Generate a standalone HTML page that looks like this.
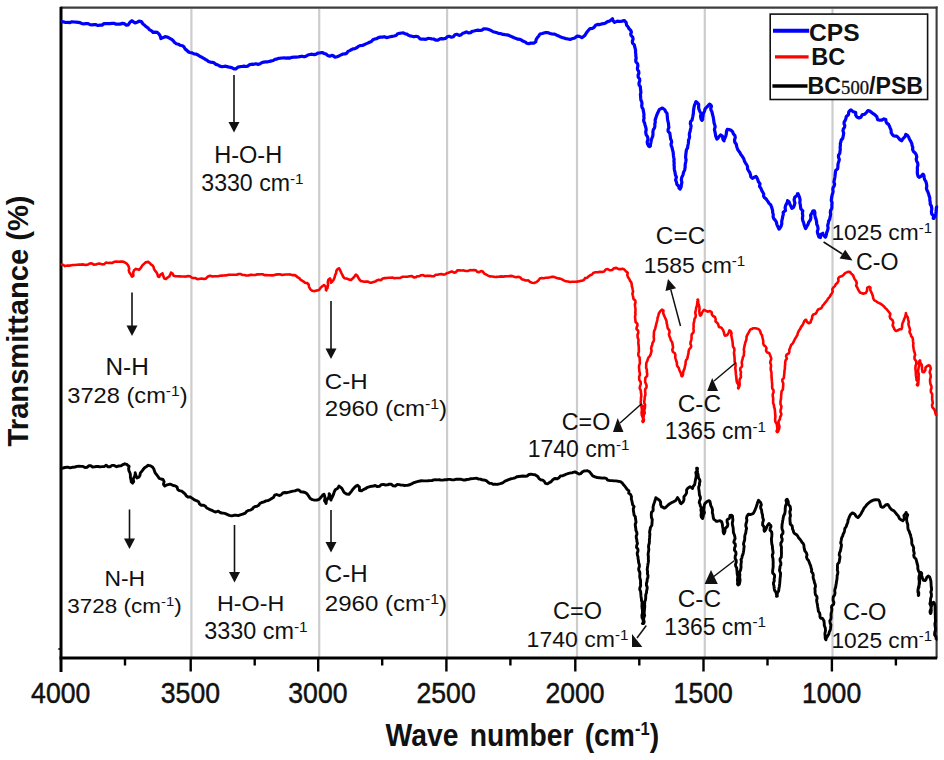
<!DOCTYPE html>
<html><head><meta charset="utf-8"><title>FTIR</title>
<style>html,body{margin:0;padding:0;background:#fff;}body{width:944px;height:760px;position:relative;overflow:hidden;font-family:"Liberation Sans",sans-serif;}</style>
</head><body>
<svg width="944" height="760" viewBox="0 0 944 760" style="position:absolute;left:0;top:0" font-family="Liberation Sans, sans-serif" fill="#111">
<rect x="0" y="0" width="944" height="760" fill="#fff"/>
<line x1="191.4" y1="9" x2="191.4" y2="657" stroke="#cdcdcd" stroke-width="2.2"/>
<line x1="319.2" y1="9" x2="319.2" y2="657" stroke="#cdcdcd" stroke-width="2.2"/>
<line x1="447.1" y1="9" x2="447.1" y2="657" stroke="#cdcdcd" stroke-width="2.2"/>
<line x1="577.0" y1="9" x2="577.0" y2="657" stroke="#cdcdcd" stroke-width="2.2"/>
<line x1="704.8" y1="9" x2="704.8" y2="657" stroke="#cdcdcd" stroke-width="2.2"/>
<line x1="832.5" y1="9" x2="832.5" y2="657" stroke="#cdcdcd" stroke-width="2.2"/>
<line x1="61" y1="7.6" x2="937.6" y2="7.6" stroke="#3c3c3c" stroke-width="2.1"/>
<line x1="936.6" y1="6.6" x2="936.6" y2="658" stroke="#3c3c3c" stroke-width="2.1"/>
<line x1="61" y1="6.8" x2="61" y2="672" stroke="#000" stroke-width="3.0"/>
<line x1="59.5" y1="658" x2="937.2" y2="658" stroke="#000" stroke-width="3.0"/>
<line x1="58.3" y1="649" x2="61" y2="649" stroke="#000" stroke-width="1.6"/>
<line x1="125.0" y1="658" x2="125.0" y2="665.5" stroke="#000" stroke-width="2.4"/>
<text transform="translate(60.7,702.9) scale(1,1.09)" text-anchor="middle" font-size="26.6" stroke="#111" stroke-width="0.45">4000</text>
<line x1="190.7" y1="658" x2="190.7" y2="671.5" stroke="#000" stroke-width="2.4"/>
<line x1="254.7" y1="658" x2="254.7" y2="665.5" stroke="#000" stroke-width="2.4"/>
<text transform="translate(190.39999999999998,702.9) scale(1,1.09)" text-anchor="middle" font-size="26.6" stroke="#111" stroke-width="0.45">3500</text>
<line x1="318.2" y1="658" x2="318.2" y2="671.5" stroke="#000" stroke-width="2.4"/>
<line x1="382.2" y1="658" x2="382.2" y2="665.5" stroke="#000" stroke-width="2.4"/>
<text transform="translate(317.9,702.9) scale(1,1.09)" text-anchor="middle" font-size="26.6" stroke="#111" stroke-width="0.45">3000</text>
<line x1="446.4" y1="658" x2="446.4" y2="671.5" stroke="#000" stroke-width="2.4"/>
<line x1="510.4" y1="658" x2="510.4" y2="665.5" stroke="#000" stroke-width="2.4"/>
<text transform="translate(446.09999999999997,702.9) scale(1,1.09)" text-anchor="middle" font-size="26.6" stroke="#111" stroke-width="0.45">2500</text>
<line x1="575.3" y1="658" x2="575.3" y2="671.5" stroke="#000" stroke-width="2.4"/>
<line x1="639.3" y1="658" x2="639.3" y2="665.5" stroke="#000" stroke-width="2.4"/>
<text transform="translate(575.0,702.9) scale(1,1.09)" text-anchor="middle" font-size="26.6" stroke="#111" stroke-width="0.45">2000</text>
<line x1="703.5" y1="658" x2="703.5" y2="671.5" stroke="#000" stroke-width="2.4"/>
<line x1="767.5" y1="658" x2="767.5" y2="665.5" stroke="#000" stroke-width="2.4"/>
<text transform="translate(703.2,702.9) scale(1,1.09)" text-anchor="middle" font-size="26.6" stroke="#111" stroke-width="0.45">1500</text>
<line x1="831.9" y1="658" x2="831.9" y2="671.5" stroke="#000" stroke-width="2.4"/>
<line x1="895.9" y1="658" x2="895.9" y2="665.5" stroke="#000" stroke-width="2.4"/>
<text transform="translate(831.6,702.9) scale(1,1.09)" text-anchor="middle" font-size="26.6" stroke="#111" stroke-width="0.45">1000</text>
<polyline points="61.0,22.0 61.7,21.7 63.3,21.8 65.5,22.5 67.9,22.4 70.0,22.6 72.0,21.8 74.0,22.0 76.1,22.2 78.1,22.4 80.1,22.7 82.0,23.6 84.0,23.8 86.1,23.5 88.1,23.7 90.0,24.7 92.0,24.8 94.0,24.7 96.0,24.7 98.0,25.5 100.0,25.2 102.0,25.1 104.0,23.6 106.0,23.5 108.0,23.7 110.0,23.6 112.0,23.4 114.0,23.3 116.1,24.2 118.1,24.2 120.0,24.1 122.3,23.4 124.4,23.7 126.3,25.1 128.2,24.8 129.9,22.3 131.9,20.7 133.5,21.9 135.0,22.9 137.3,22.2 139.0,21.1 141.3,21.5 143.0,24.0 144.7,25.3 146.3,26.8 148.2,28.1 149.3,29.6 151.6,30.8 153.1,32.4 155.1,32.1 157.3,32.4 159.1,34.1 160.3,36.2 160.9,38.5 163.2,37.6 165.1,36.7 167.3,37.0 169.8,38.3 171.6,39.3 173.2,40.7 174.6,42.5 176.3,43.7 178.4,44.2 180.2,45.3 182.5,45.8 184.0,46.9 185.0,48.9 186.6,50.1 188.0,51.5 189.7,52.5 192.1,52.9 194.1,53.9 196.4,54.2 198.4,55.2 200.1,56.5 202.0,57.3 203.7,58.3 205.3,59.4 207.0,60.2 208.5,61.4 210.3,62.1 212.3,62.3 214.2,62.9 216.0,64.4 218.0,65.0 219.8,66.1 222.2,66.7 224.8,66.2 227.1,66.6 229.4,67.2 231.7,67.6 234.0,68.9 236.0,68.8 237.9,67.1 239.9,66.7 241.9,66.5 243.9,66.2 245.9,66.5 247.9,66.1 249.8,64.6 251.6,64.2 253.7,64.3 255.8,63.8 258.1,64.4 260.2,63.8 262.0,62.5 263.8,62.1 265.8,61.9 267.7,61.8 269.6,61.4 271.4,60.9 273.3,60.5 275.0,59.3 276.8,59.1 278.7,58.3 280.5,58.2 282.4,58.0 284.3,57.9 286.1,58.1 288.0,57.9 290.0,58.1 292.0,57.3 294.0,57.2 296.0,57.2 298.0,57.0 299.8,56.6 301.9,56.2 304.1,56.8 306.1,56.2 307.9,55.0 309.9,54.5 312.0,54.2 314.2,54.6 316.2,54.1 318.1,53.0 320.0,52.9 322.2,52.5 324.2,53.5 326.2,54.1 327.8,55.6 329.6,56.2 331.8,55.4 333.4,55.9 335.0,57.1 337.0,56.7 339.0,55.9 341.1,54.9 343.0,54.0 345.0,53.9 346.7,53.2 348.0,51.4 349.8,50.6 351.3,49.7 352.9,48.9 354.9,48.6 356.7,47.7 358.3,46.4 360.1,45.6 362.3,45.5 364.1,44.7 365.9,43.9 367.7,43.1 369.5,42.2 371.4,41.5 372.9,39.7 374.8,39.0 376.7,38.7 378.4,37.6 380.3,37.1 382.3,37.1 384.2,36.7 386.4,37.6 388.3,37.2 390.2,36.8 392.1,36.4 394.1,36.0 396.1,35.5 397.8,33.7 399.7,33.3 401.6,33.0 403.4,32.9 405.0,33.7 406.9,34.1 408.4,35.2 410.0,35.9 411.9,36.3 413.9,36.8 416.1,36.3 418.1,36.8 419.9,38.8 421.8,39.1 423.8,39.1 425.8,39.3 428.0,38.4 429.9,38.5 431.8,38.9 433.7,39.0 435.8,40.2 437.9,40.1 440.0,38.8 441.7,38.6 443.7,38.8 445.6,38.4 447.2,36.8 449.1,36.3 451.4,37.2 453.4,36.7 454.9,34.8 456.8,34.3 459.1,35.4 461.0,34.9 462.7,33.3 464.6,32.8 466.4,31.9 468.7,33.0 470.6,32.6 472.2,31.4 474.0,31.0 475.9,30.5 477.9,30.1 480.0,30.5 481.8,30.2 483.6,28.9 485.4,28.9 487.1,29.0 489.3,29.7 491.2,30.7 493.1,31.7 495.2,32.3 497.0,32.8 498.9,33.5 501.0,33.7 503.0,34.4 505.1,34.7 507.0,34.9 509.0,35.4 510.7,36.3 512.5,37.0 514.2,37.8 516.0,38.4 517.8,39.2 520.0,39.4 521.8,40.3 523.4,41.3 525.2,41.9 526.8,43.3 528.7,43.7 530.7,43.1 532.4,43.1 534.1,43.1 535.7,41.8 536.2,39.4 537.4,37.6 538.8,35.9 540.0,34.0 542.3,33.5 543.8,33.0 545.8,32.5 548.0,32.6 550.0,33.5 551.8,33.8 554.6,34.1 556.9,35.2 558.6,35.9 560.2,36.8 562.0,37.4 563.9,38.0 565.9,38.6 568.0,39.0 570.1,39.4 571.9,38.8 573.9,38.3 575.6,37.3 577.0,36.1 579.4,36.4 581.8,37.6 583.8,36.3 585.0,35.3 586.1,33.4 587.4,31.5 588.7,30.0 590.0,28.6 592.3,28.4 594.1,27.3 595.6,25.3 597.7,24.4 599.8,24.6 601.6,23.9 603.5,23.7 605.2,23.2 607.6,21.6 609.7,21.0 611.2,19.9 612.5,18.8 613.0,20.7 614.6,22.4 617.4,21.1 620.0,21.5 622.1,21.1 624.2,20.5 626.1,22.3 626.6,25.2 628.0,26.8 629.0,28.7 630.9,30.7 631.4,32.1 630.7,34.0 631.2,35.7 632.7,37.2 633.1,39.1 632.3,41.3 632.6,43.2 634.3,44.9 634.7,46.8 635.2,48.6 635.6,50.4 635.5,52.3 635.8,54.2 635.8,56.1 636.2,58.0 635.7,60.0 636.0,62.0 637.6,63.8 637.9,65.8 637.4,68.0 637.6,69.7 638.7,71.4 638.9,73.2 638.1,75.2 638.2,77.1 639.6,78.9 639.8,80.8 639.0,82.9 639.1,84.8 640.3,86.7 640.5,88.7 640.7,90.6 640.9,92.5 640.4,94.5 640.6,96.4 640.7,98.2 640.9,100.0 641.7,101.8 642.0,103.7 641.7,105.6 642.0,107.4 643.1,109.1 643.3,110.9 643.7,112.7 644.0,114.5 643.8,116.3 644.1,118.1 643.6,119.9 643.9,121.7 644.7,123.3 645.0,125.0 645.7,127.1 646.2,129.4 645.7,132.1 646.1,134.6 647.6,136.9 648.0,139.3 647.2,141.7 647.4,143.6 648.1,145.0 648.6,146.0 649.5,146.6 650.4,146.0 650.4,144.6 650.8,143.1 651.1,141.1 651.6,138.9 652.6,136.7 653.0,134.3 652.9,131.8 653.3,129.7 654.4,128.1 654.9,126.1 654.8,124.0 655.3,122.1 655.1,120.1 655.7,118.4 656.2,116.8 656.9,114.7 657.8,112.8 658.6,111.0 659.5,109.4 662.4,108.0 664.8,109.7 665.1,110.2 665.5,111.5 667.0,113.2 667.2,115.4 667.4,117.6 667.6,119.9 668.1,121.9 668.5,123.7 668.6,125.6 668.9,127.4 668.1,129.4 668.1,131.3 669.8,133.1 670.1,135.2 670.4,137.4 670.6,139.0 671.4,140.5 671.7,142.2 671.0,144.1 671.3,145.9 672.1,147.7 672.4,149.6 673.0,151.5 673.3,153.4 673.4,155.4 673.7,157.3 674.1,159.2 673.9,161.2 674.2,163.1 674.0,165.0 674.3,166.7 674.2,168.5 674.5,170.1 675.0,172.3 675.4,174.8 676.4,177.2 675.6,179.9 676.5,182.3 676.9,184.5 678.6,186.0 679.0,187.4 679.3,188.2 679.0,188.1 680.1,189.1 680.6,188.1 681.2,186.6 681.4,184.6 681.9,182.4 681.3,179.8 681.8,177.3 683.0,174.9 683.5,172.4 684.6,170.1 684.9,168.6 685.2,167.0 685.1,165.2 685.4,163.4 685.8,161.6 686.1,159.8 685.6,157.7 685.7,155.7 685.9,153.8 686.2,151.8 686.4,149.8 687.6,147.9 687.8,145.9 688.2,144.0 688.5,142.0 688.5,140.1 689.3,138.3 689.6,136.5 689.3,134.7 689.5,133.1 690.1,131.5 690.3,130.0 690.8,127.8 691.1,125.8 690.3,123.6 690.6,121.6 692.1,120.0 692.4,118.3 692.8,116.5 693.1,114.8 693.4,113.1 693.5,110.6 693.9,108.0 694.4,105.4 695.4,103.3 695.9,101.9 695.9,101.5 696.7,102.2 698.7,104.4 698.6,107.6 699.0,109.4 699.8,111.5 701.2,113.7 700.5,116.2 700.9,118.2 701.3,119.6 702.0,120.3 702.7,119.5 702.7,118.0 703.1,115.8 703.3,113.4 704.5,111.2 705.0,109.2 705.7,108.1 707.7,106.3 709.5,104.1 710.9,105.1 711.5,106.3 710.7,108.3 711.0,110.1 712.0,112.0 712.4,114.3 713.1,116.5 713.5,118.8 713.8,121.0 714.1,123.1 714.7,124.8 715.2,126.9 714.4,129.5 714.9,131.7 715.4,134.0 715.7,136.0 716.3,137.7 716.9,139.0 717.7,138.6 718.8,136.8 720.5,135.0 722.5,136.1 722.9,139.4 724.0,140.9 724.1,140.0 724.7,138.5 725.7,136.4 726.3,133.9 726.5,131.4 727.3,129.4 729.1,129.6 730.7,130.0 732.4,131.5 732.9,132.4 733.4,133.9 734.9,135.5 735.3,137.6 734.5,140.0 734.8,142.3 736.3,144.3 736.7,146.4 737.3,148.3 737.9,149.8 739.0,151.4 740.0,152.8 740.7,154.3 741.8,155.7 742.9,157.3 743.8,158.9 744.4,160.9 745.4,162.8 746.6,164.6 747.5,166.4 747.5,168.7 748.3,170.3 749.7,172.4 750.5,174.7 750.8,176.9 752.4,178.3 754.4,177.1 756.0,176.4 756.4,176.9 757.1,178.1 757.8,179.8 758.4,181.8 760.0,183.8 759.5,186.4 761.0,188.5 761.8,190.6 762.8,192.3 763.7,194.0 763.6,196.2 764.6,197.8 766.1,198.9 767.1,200.4 768.2,201.9 769.1,203.4 770.6,204.7 771.4,206.6 772.0,208.5 772.6,210.5 772.7,212.6 773.3,214.6 773.1,216.7 773.7,218.6 775.1,220.0 776.4,222.1 776.9,224.6 777.9,226.7 778.6,228.1 779.0,229.1 779.7,228.6 780.3,227.5 781.2,225.9 781.8,223.8 781.7,221.4 782.3,218.9 782.7,216.5 783.3,214.3 783.2,212.3 785.5,210.4 785.1,207.7 785.7,205.3 786.8,203.4 787.4,202.0 787.6,200.6 788.9,201.7 789.9,204.2 791.0,206.4 791.9,208.4 793.5,207.3 794.3,205.4 794.9,203.0 794.1,199.9 794.7,197.3 797.0,195.4 797.6,194.0 797.5,193.8 798.0,193.7 798.6,195.1 799.5,197.2 800.1,199.8 799.8,202.6 800.4,205.1 800.5,206.9 800.9,208.9 802.8,210.8 802.4,213.3 802.8,215.8 802.4,218.3 802.8,220.7 803.7,222.8 804.1,224.8 804.8,226.5 805.2,227.8 805.6,228.6 805.8,228.1 806.1,227.9 806.8,226.4 808.0,224.4 808.8,222.0 810.3,220.1 810.9,217.9 810.6,215.2 812.1,213.0 812.7,211.3 813.0,210.8 814.3,210.8 814.9,212.6 814.8,215.1 815.4,217.6 816.2,219.9 816.6,221.8 816.7,224.1 817.7,226.4 818.1,228.9 817.3,231.6 817.8,233.8 818.4,235.5 818.9,236.9 820.5,237.5 820.8,234.5 822.9,233.3 822.5,234.2 824.5,236.1 825.2,237.2 825.5,237.1 825.9,236.1 826.4,234.5 826.7,232.5 827.6,230.4 828.1,228.0 827.7,225.5 828.3,223.1 828.7,220.9 829.6,219.4 829.9,217.7 830.4,215.9 830.6,214.1 830.3,212.2 830.6,210.4 831.7,208.6 831.9,206.7 831.8,204.7 832.1,202.8 831.3,200.7 831.4,198.8 831.8,196.9 832.1,194.9 832.8,193.2 833.1,191.3 832.8,189.4 833.1,187.6 834.3,185.8 834.6,184.0 833.9,181.9 834.3,180.0 834.7,178.1 835.0,176.2 835.2,174.3 835.4,172.4 835.7,170.5 837.6,168.9 837.9,167.0 837.9,165.1 838.2,163.2 838.9,161.3 839.3,159.4 838.5,157.2 838.5,155.2 839.8,153.4 840.0,151.4 840.3,149.5 840.1,147.4 840.4,145.5 840.3,143.6 840.9,141.8 841.2,140.0 842.7,138.5 843.0,136.8 843.4,135.2 843.7,133.1 843.0,131.0 843.3,129.0 844.5,127.4 844.8,125.6 844.0,123.6 844.2,121.9 845.2,120.4 845.8,118.9 846.3,116.5 848.5,114.7 848.7,112.2 849.8,110.6 851.0,109.8 852.7,111.4 855.7,112.4 855.7,115.2 857.0,117.1 859.0,118.0 860.9,117.2 862.1,114.9 864.6,114.2 866.4,112.6 868.0,110.6 869.8,111.1 871.6,112.4 873.2,113.7 875.3,115.1 876.9,116.9 877.6,119.7 879.7,120.2 881.8,120.2 883.9,118.9 885.8,119.6 886.0,121.7 886.8,123.1 888.6,124.4 889.4,126.2 890.1,127.9 891.1,130.1 891.2,132.7 892.4,134.6 893.7,136.0 895.5,136.1 896.7,136.0 898.1,137.5 899.9,139.6 901.6,140.8 902.8,138.9 905.0,136.7 905.8,134.4 907.5,135.3 908.6,137.0 909.5,139.2 910.8,141.4 911.8,143.6 912.1,145.5 912.8,147.3 912.6,149.5 913.4,151.4 915.2,152.9 916.2,154.8 916.8,156.8 916.2,159.1 916.6,160.9 917.7,162.9 917.9,165.2 917.3,167.6 917.4,169.8 917.3,172.0 917.4,173.9 917.8,175.4 918.2,176.6 919.1,177.3 921.4,176.0 923.0,174.1 923.5,174.7 924.0,175.8 924.2,177.5 924.6,179.5 925.9,181.6 926.5,183.8 926.8,186.1 926.4,188.3 926.9,190.0 927.9,192.0 928.6,193.9 929.1,195.9 929.8,197.8 929.8,200.1 930.2,201.9 930.2,204.1 931.5,206.4 931.8,209.0 931.4,211.6 931.7,213.9 933.5,215.8 933.8,217.3 933.9,218.3 933.2,218.3 933.2,218.1 935.2,216.6 935.7,214.0 936.1,211.2 936.3,208.7 936.6,206.8 936.0,206.0" fill="none" stroke="#0000ff" stroke-width="3.2" stroke-linejoin="round" stroke-linecap="butt"/>
<polyline points="61.0,265.0 61.6,264.6 63.0,264.7 65.0,266.1 67.6,265.5 70.2,265.6 72.8,265.0 75.0,265.0 77.1,264.7 79.2,264.6 81.2,264.6 83.3,264.4 85.4,264.9 87.5,264.8 89.6,263.5 91.7,263.4 93.8,264.6 95.9,264.5 98.0,263.8 100.0,263.6 102.1,264.4 104.1,264.2 105.9,262.6 107.9,263.0 110.0,262.8 112.1,263.0 114.2,261.8 116.5,261.5 118.7,261.7 120.8,261.6 122.6,261.6 124.6,262.3 126.4,263.4 127.8,264.8 128.6,266.4 129.2,268.3 128.8,270.4 129.3,272.2 131.2,275.1 132.0,276.7 133.4,275.7 133.1,272.7 134.1,270.2 135.9,268.9 137.5,269.3 139.0,269.9 140.0,268.9 141.2,267.2 142.5,265.3 144.0,263.9 145.8,262.3 148.2,261.9 149.9,263.2 150.9,264.4 152.7,265.6 153.6,267.2 154.1,269.1 155.2,270.9 156.5,272.4 157.5,274.3 157.9,276.3 159.0,277.0 160.3,274.9 162.5,273.3 163.2,275.8 164.3,278.4 166.1,278.9 166.7,278.1 169.2,276.5 170.5,274.2 171.0,272.5 172.5,273.5 173.6,275.7 175.5,276.2 177.4,276.3 179.5,276.4 181.7,276.5 184.0,276.5 186.0,276.6 188.1,276.0 190.0,276.3 192.3,278.0 195.2,278.0 197.5,279.2 200.0,278.8 201.8,278.5 204.1,279.0 206.1,278.4 207.9,276.5 210.0,275.7 212.6,276.5 214.3,276.2 216.2,276.3 218.1,276.2 220.0,275.7 221.9,275.6 223.7,275.5 225.7,275.4 227.8,274.9 230.0,274.8 231.6,274.8 233.2,274.8 235.0,274.8 236.8,274.8 238.6,274.0 240.5,274.0 242.4,274.9 244.4,275.0 246.3,275.5 248.2,275.5 250.0,274.9 251.8,274.9 253.6,275.0 255.5,275.0 257.3,274.3 259.1,274.4 260.9,274.3 262.7,274.3 264.5,275.1 266.4,275.1 268.2,275.3 270.0,275.3 271.9,275.4 273.8,275.2 275.8,274.6 277.8,274.4 279.8,274.2 281.8,274.9 283.7,274.8 285.4,274.5 287.1,274.5 288.6,274.5 289.9,274.4 292.1,275.1 294.4,275.0 296.3,276.0 297.6,277.3 299.3,278.1 300.5,279.7 302.0,280.6 303.6,281.6 305.0,282.8 307.3,283.1 308.6,284.5 309.1,287.1 310.3,289.2 312.2,290.7 314.5,291.1 316.9,290.5 319.0,290.0 320.5,287.9 322.6,286.0 324.0,285.0 325.7,286.4 326.0,289.3 326.3,290.4 325.9,289.9 327.5,288.0 328.1,285.1 327.8,282.0 328.4,279.7 329.9,278.4 330.9,280.4 330.9,282.7 332.1,281.8 333.5,279.9 334.6,277.5 335.1,275.1 336.1,273.2 336.4,270.8 337.5,269.1 339.2,268.3 340.3,270.6 341.5,273.3 342.4,274.8 343.1,276.7 344.4,278.2 347.0,278.6 349.1,279.6 351.0,279.9 352.3,278.8 354.1,277.0 355.4,275.2 355.9,274.6 357.1,275.5 358.3,277.6 359.4,279.5 360.9,281.1 362.5,281.3 364.1,281.7 366.0,281.5 368.0,281.6 370.0,282.7 371.7,282.6 373.4,282.0 375.2,281.6 376.8,280.4 378.7,279.8 381.0,280.2 382.7,278.5 384.8,278.1 386.6,278.0 388.4,277.8 390.3,277.8 392.3,277.6 394.3,278.2 396.3,278.0 398.3,278.0 400.3,277.9 402.3,276.8 404.2,276.7 406.2,276.8 408.1,276.6 409.9,276.2 411.9,276.1 413.9,277.4 415.7,277.3 417.5,276.2 419.4,276.1 421.2,275.2 423.0,275.1 424.8,276.0 426.6,275.9 428.3,275.9 430.0,275.8 432.0,276.2 434.0,276.1 435.8,274.8 437.7,274.7 439.5,274.2 441.3,274.1 443.2,274.6 445.0,274.3 446.7,273.3 448.4,272.8 450.1,272.1 451.9,271.5 454.2,272.7 455.9,272.2 457.4,270.4 459.5,270.2 461.7,270.5 463.7,270.4 465.8,271.0 467.9,271.0 470.0,270.1 471.9,270.3 473.8,270.0 475.7,270.2 477.3,271.9 479.1,272.2 481.1,271.1 482.8,271.6 484.4,273.7 486.3,274.7 488.1,275.6 489.8,276.4 492.6,276.5 495.1,277.0 496.7,276.9 498.8,276.8 500.9,276.4 503.1,276.6 505.0,276.4 506.9,276.3 508.7,276.2 510.5,275.9 512.5,276.1 514.2,276.8 516.1,277.3 518.3,276.8 520.3,277.4 521.9,279.3 523.7,279.8 525.8,280.5 528.4,280.4 530.1,282.1 532.1,282.8 534.1,283.0 536.3,282.1 538.2,280.8 539.8,278.5 541.6,278.0 543.7,278.2 545.8,277.8 548.0,277.6 550.1,277.3 552.2,276.9 554.0,276.9 556.1,277.7 558.0,278.4 560.1,278.6 562.0,279.4 563.9,280.4 565.8,281.3 568.0,281.5 570.1,282.0 572.0,281.8 574.1,281.8 576.2,281.8 578.4,281.4 580.4,280.9 582.4,280.7 584.0,279.8 585.0,278.1 587.3,277.7 588.6,276.4 590.2,275.3 592.0,274.5 593.6,272.7 595.7,272.2 597.9,272.3 599.9,271.7 602.1,272.0 604.1,271.5 605.7,269.5 607.7,269.1 610.1,270.3 612.1,270.0 614.0,268.2 616.3,267.9 618.7,269.1 620.7,269.1 622.5,268.8 623.9,269.2 625.6,270.9 627.7,272.7 627.3,275.0 627.9,277.0 629.3,278.9 629.9,280.6 631.1,282.1 631.7,284.0 631.8,286.0 632.4,287.9 632.7,289.7 633.1,291.5 632.4,293.6 632.8,295.5 633.3,297.6 633.5,299.1 635.3,300.6 635.5,302.5 634.9,304.4 635.1,306.4 635.4,308.4 635.5,310.4 635.3,312.5 635.5,314.5 635.0,316.5 635.2,318.3 635.4,320.1 635.6,322.0 637.3,323.7 637.5,325.4 636.7,327.2 636.5,329.0 638.1,330.7 638.3,332.7 637.5,335.0 637.6,336.4 637.7,337.8 638.4,339.3 638.5,340.9 638.3,342.6 638.4,344.3 638.7,346.1 638.8,347.9 638.8,349.8 638.9,351.7 638.3,353.6 638.4,355.6 639.6,357.5 639.7,359.5 639.8,361.5 639.9,363.4 639.1,365.5 639.0,367.4 639.2,369.3 639.3,371.2 639.8,373.0 639.9,374.9 639.1,376.7 639.2,378.4 639.3,380.0 640.7,382.0 640.8,384.1 640.0,386.2 639.7,388.3 640.8,390.3 640.9,392.3 641.2,394.3 641.3,396.2 640.9,398.2 641.0,400.1 640.7,401.9 640.8,403.7 641.6,405.3 641.8,406.9 642.2,408.5 642.4,409.9 641.6,412.5 641.8,415.1 643.0,417.5 643.2,419.5 642.4,421.1 642.9,422.0 643.7,421.2 643.9,419.8 643.1,417.8 643.2,415.5 644.8,413.1 644.0,410.4 644.9,408.0 645.0,406.4 645.1,404.8 644.3,402.9 644.3,401.1 644.6,399.2 644.7,397.2 645.3,395.3 645.4,393.3 645.1,391.3 645.2,389.3 646.5,387.4 646.6,385.5 645.8,383.5 645.1,381.7 645.2,380.0 645.4,377.9 647.1,375.9 647.2,373.8 646.8,371.8 646.9,369.8 646.1,367.8 646.2,366.0 646.2,364.2 646.5,362.5 647.3,360.9 647.9,359.0 648.6,357.3 649.9,355.9 650.7,354.2 651.2,352.1 651.6,350.6 651.1,348.7 651.4,346.9 652.2,345.0 652.5,343.0 653.7,341.1 654.0,339.0 653.7,336.8 653.9,334.8 653.9,332.7 654.2,330.9 655.1,329.2 655.4,327.6 656.0,325.4 656.4,323.3 657.0,321.3 657.4,319.5 657.6,317.7 658.2,316.1 658.9,313.3 660.4,311.1 661.9,309.7 663.5,310.7 663.2,313.0 663.9,315.1 665.0,317.5 666.1,320.0 666.6,321.4 666.6,323.0 667.1,324.7 667.4,326.5 667.8,328.4 669.2,330.1 669.6,332.1 668.9,334.3 669.4,336.3 670.3,338.2 670.8,340.2 672.0,341.9 672.5,343.8 672.7,345.6 673.1,347.3 672.3,349.7 672.8,351.8 674.9,353.3 675.4,355.2 675.2,357.3 675.7,359.2 676.3,361.0 676.9,362.7 676.9,364.6 677.4,366.2 678.8,368.1 679.5,370.5 680.6,372.6 681.2,374.5 681.5,375.9 682.0,376.3 682.4,375.9 683.0,374.7 683.1,372.8 683.6,370.6 684.6,368.4 685.0,366.0 685.6,363.9 685.6,362.0 686.0,360.3 687.2,358.7 687.7,356.9 688.0,355.1 688.5,353.2 688.6,351.3 689.1,349.4 690.8,347.7 691.2,345.9 690.4,343.8 690.6,342.0 691.2,340.1 691.6,338.2 691.5,336.2 691.8,334.2 693.4,332.5 693.7,330.6 693.4,328.6 693.7,326.8 693.5,324.9 693.8,322.9 694.3,320.9 694.5,318.9 695.6,317.1 695.8,315.1 695.3,313.2 695.5,311.4 695.9,309.7 696.1,308.0 696.9,305.8 697.2,303.4 697.6,301.3 697.8,299.8 697.5,299.7 698.0,299.6 698.2,301.2 698.3,303.5 699.3,306.1 699.5,308.9 699.3,311.6 699.6,313.6 699.8,314.9 700.2,315.5 700.3,315.7 701.1,314.9 701.9,312.9 703.2,310.9 704.1,309.8 705.6,310.6 707.6,311.7 709.9,311.0 711.6,312.0 711.9,314.5 712.8,315.8 714.9,317.0 715.7,319.1 715.5,321.5 717.4,323.0 718.2,324.4 719.0,327.1 721.5,327.8 722.9,329.7 723.9,332.2 724.4,334.6 725.0,335.7 727.0,335.2 728.7,332.7 729.4,330.4 730.8,331.4 731.5,333.1 731.3,335.4 731.8,337.8 732.2,340.1 732.5,341.6 732.7,343.2 732.8,345.0 733.0,346.8 734.3,348.6 734.4,350.5 734.0,352.4 734.1,354.3 734.4,356.2 734.6,358.0 734.6,359.9 734.7,361.9 735.5,363.7 735.6,365.7 735.3,367.6 735.4,369.5 735.7,371.4 735.8,373.2 736.0,375.0 736.3,377.2 736.5,379.8 736.9,382.3 738.3,384.5 738.6,386.5 738.1,388.0 738.4,388.4 738.6,388.1 738.9,387.2 739.5,385.8 739.7,383.9 739.4,381.7 739.7,379.3 741.0,377.0 740.7,374.5 741.0,372.2 740.2,369.9 740.4,368.2 741.9,366.6 742.1,364.8 741.7,362.8 742.0,360.9 742.6,359.0 742.9,357.1 743.9,355.3 743.9,353.4 744.2,351.6 743.8,349.7 744.1,348.0 744.4,346.4 744.8,344.9 745.2,342.8 746.0,340.8 746.5,338.9 746.5,337.0 747.0,335.4 747.9,334.0 749.3,331.3 750.4,329.4 751.6,329.1 753.3,328.2 755.4,328.3 757.4,328.7 759.0,329.5 759.9,330.5 760.4,332.0 760.9,333.6 762.0,335.3 762.4,337.3 762.9,339.3 763.3,341.3 763.2,343.3 763.8,345.1 765.6,346.5 766.5,348.2 766.0,350.6 767.0,352.3 769.3,353.3 770.1,355.2 770.9,357.2 771.3,358.9 770.5,361.0 770.2,362.7 770.9,364.4 771.0,366.3 770.7,368.2 770.8,370.1 771.4,372.1 771.5,374.0 771.5,376.0 771.6,378.0 771.8,379.7 771.9,381.4 772.1,383.2 772.2,385.0 772.1,386.8 772.3,388.6 773.5,390.3 773.6,392.2 772.8,394.1 772.7,395.9 773.1,397.7 773.2,399.6 773.1,401.4 773.2,403.3 773.9,405.0 774.1,407.0 774.8,409.2 775.0,411.6 775.2,414.1 775.4,416.6 775.1,419.2 775.3,421.6 776.7,423.8 777.0,425.8 777.2,427.7 777.5,429.2 776.7,430.6 776.6,431.5 777.5,432.1 778.3,431.3 778.6,430.1 779.2,428.5 779.5,426.4 778.7,423.8 778.5,421.4 779.9,419.2 780.2,417.0 781.1,415.4 781.3,413.7 780.5,411.8 780.6,410.0 781.2,408.2 781.4,406.3 780.6,404.4 780.4,402.5 780.6,400.6 781.0,398.7 781.1,396.8 781.2,394.9 781.4,393.1 781.6,391.2 782.9,389.4 783.0,387.4 783.2,385.5 783.3,383.6 782.5,381.6 782.3,379.7 783.8,378.0 784.0,376.1 784.2,374.3 784.4,372.6 784.5,370.5 784.9,368.4 784.9,366.3 785.2,364.3 785.2,362.2 785.6,360.3 786.9,358.6 786.1,356.4 786.6,354.7 788.7,353.4 789.4,351.7 789.3,349.6 790.1,348.0 790.6,346.3 791.4,344.7 792.8,343.3 793.7,341.7 794.4,340.0 795.3,338.3 796.4,336.7 797.4,334.9 797.8,333.0 798.7,331.1 800.1,329.1 801.1,326.9 802.5,325.1 803.5,323.2 804.1,321.4 805.0,320.3 806.1,319.8 807.0,321.9 808.8,323.3 810.6,322.4 811.0,320.5 812.0,318.7 812.2,316.3 813.3,314.5 815.4,313.8 816.6,312.4 817.3,310.6 818.5,309.2 820.7,308.6 821.9,307.4 822.6,305.6 823.9,304.3 825.0,302.8 826.2,301.4 827.3,299.9 828.3,298.3 829.7,296.9 830.6,295.1 831.8,293.5 832.7,291.7 832.3,289.3 833.2,287.6 834.9,286.1 835.8,284.2 837.5,282.7 838.5,280.9 838.2,278.5 839.3,276.9 842.1,276.1 843.7,274.7 845.1,273.1 847.3,272.1 848.9,271.7 850.1,272.1 851.3,273.6 853.1,275.2 853.9,277.5 854.7,279.2 856.1,281.0 856.8,283.2 856.1,285.8 857.4,287.8 858.2,289.8 859.2,291.3 860.0,292.5 862.1,293.4 863.9,293.6 865.7,293.1 867.0,290.8 867.2,287.9 868.9,286.7 870.5,287.6 870.2,289.7 871.0,291.7 872.1,293.9 872.9,296.2 873.3,298.6 874.4,300.4 876.4,301.4 877.9,302.6 879.8,303.3 881.4,304.3 882.9,305.5 884.3,306.7 885.4,308.1 886.7,309.3 887.9,310.8 889.2,312.4 890.4,313.8 889.7,316.3 890.3,318.4 892.6,320.3 893.3,322.7 892.6,325.3 893.6,327.3 894.3,329.0 895.2,330.3 896.0,331.0 897.9,330.3 899.4,329.3 901.5,329.1 902.1,327.2 902.1,325.0 902.6,323.0 903.5,321.2 904.1,319.2 905.1,317.0 905.7,314.9 906.0,313.4 905.9,313.1 905.9,313.4 906.3,315.1 907.7,317.3 908.2,319.8 908.8,321.8 908.4,324.0 908.8,325.8 909.5,327.7 910.1,330.0 909.5,331.5 909.9,333.0 910.8,334.4 911.2,336.1 912.5,337.6 912.9,339.5 913.0,341.4 913.4,343.3 913.1,345.4 913.4,347.3 913.7,349.3 914.1,351.2 914.8,353.1 915.1,355.0 914.4,357.0 914.6,359.1 916.2,361.3 916.3,363.7 915.5,366.2 915.4,368.7 915.7,371.2 915.9,373.6 916.0,375.9 916.4,378.0 916.5,380.0 917.8,381.6 917.9,383.0 917.1,384.2 916.9,384.9 917.7,385.4 918.2,384.7 918.3,383.5 918.4,381.7 918.6,379.4 918.6,376.8 918.7,374.0 918.0,371.0 918.5,368.2 919.1,365.7 918.8,363.4 919.1,361.5 920.1,360.5 919.9,360.3 920.0,360.7 920.2,362.5 921.7,364.7 922.0,367.3 922.1,369.8 922.5,371.5 922.5,372.0 924.1,372.1 925.3,370.1 925.5,367.5 927.2,366.0 929.0,365.2 930.1,366.1 930.5,367.3 930.8,368.8 930.0,370.7 929.7,372.6 930.6,374.8 930.7,377.1 930.0,379.5 930.1,381.8 930.5,384.1 931.4,386.1 931.5,388.0 930.8,390.0 930.9,392.0 932.1,393.9 932.2,395.9 932.1,397.8 932.2,399.7 932.6,401.5 932.8,403.2 932.0,405.1 932.4,407.4 934.4,409.5 935.2,411.8 935.6,413.9 936.1,415.3 936.0,416.0" fill="none" stroke="#ff0000" stroke-width="2.6" stroke-linejoin="round" stroke-linecap="butt"/>
<polyline points="61.0,469.0 61.4,468.2 62.9,468.0 65.0,467.5 67.5,467.1 70.3,467.9 72.8,467.2 75.0,467.0 77.0,466.4 79.0,466.3 81.0,466.4 83.0,466.4 85.0,467.5 87.0,467.4 88.8,465.7 90.7,465.6 92.6,467.0 94.5,466.9 96.3,466.5 98.2,466.5 100.0,466.9 102.0,466.6 104.1,466.6 106.1,465.3 108.1,466.7 110.1,466.7 112.0,465.4 114.2,465.4 116.5,466.7 118.7,466.0 120.7,465.9 122.3,464.9 124.8,463.8 126.9,464.4 127.4,465.1 129.1,466.3 128.6,468.7 129.0,470.9 130.0,473.0 130.4,474.9 130.4,477.4 131.0,479.8 131.3,482.0 132.6,483.1 133.7,481.7 133.2,478.9 134.7,476.1 135.3,473.7 135.2,472.8 135.9,475.2 137.0,478.0 138.8,477.2 139.9,475.4 140.4,472.9 142.1,471.0 143.1,469.5 144.6,467.7 146.2,466.7 148.2,465.3 150.7,465.9 152.7,467.3 153.8,469.0 154.5,471.0 155.2,472.9 156.9,475.0 158.2,476.8 159.1,478.3 161.0,479.0 163.0,479.5 164.1,481.6 163.5,484.3 164.8,486.1 167.2,484.8 170.0,484.2 171.6,484.7 173.2,485.5 175.3,485.9 177.0,487.0 177.8,489.6 179.5,490.7 181.7,491.2 183.4,492.5 185.0,493.8 186.2,495.8 187.9,497.0 190.3,497.0 192.0,498.1 193.5,499.2 195.1,500.2 196.9,500.8 198.5,501.7 199.6,504.0 201.3,505.2 203.7,505.2 205.4,506.2 206.7,508.0 208.4,508.8 210.1,509.7 211.9,510.4 213.7,511.3 215.8,512.0 218.3,511.1 220.0,512.5 221.8,513.0 223.6,513.1 225.4,513.6 227.0,514.3 229.3,515.3 231.7,515.9 234.0,515.3 235.9,515.1 238.2,515.6 240.2,514.9 242.7,514.2 245.3,513.1 246.6,511.4 248.3,510.4 250.5,510.1 252.3,509.1 253.5,507.4 255.1,506.5 257.0,506.2 258.6,505.3 259.8,503.6 261.8,502.5 264.0,501.9 266.0,500.9 268.3,500.5 270.1,499.5 271.7,498.4 273.4,497.4 274.7,495.2 276.6,494.5 279.1,495.5 281.1,494.9 282.8,493.0 284.9,492.5 287.0,492.7 289.0,492.2 291.0,491.6 292.9,491.1 295.0,490.9 296.9,490.0 298.9,490.0 300.9,491.9 302.8,492.0 304.4,492.3 305.5,492.7 307.2,494.0 308.5,495.8 310.0,498.2 312.4,499.7 314.5,500.1 316.9,500.0 319.2,499.3 321.0,497.3 322.7,495.0 324.0,494.2 324.4,495.3 325.0,497.7 324.5,500.7 326.0,502.9 326.0,503.6 326.2,502.9 326.4,500.3 328.6,497.7 329.2,495.3 329.2,493.6 330.1,495.4 330.2,498.4 331.0,500.1 331.3,498.8 332.5,496.8 333.6,494.1 334.3,491.7 335.3,489.8 337.5,488.5 338.4,487.1 339.0,486.1 340.1,486.9 341.9,488.4 343.1,490.6 344.0,492.4 346.5,494.0 349.0,494.2 350.2,492.8 351.4,491.3 352.6,489.7 354.1,487.8 356.0,486.1 357.6,485.3 359.4,487.1 359.5,490.5 361.6,490.8 363.3,489.6 365.5,488.7 367.5,487.3 369.9,486.6 371.6,486.3 373.5,486.0 375.3,485.5 377.4,486.6 379.4,486.3 381.3,484.6 383.4,484.4 385.5,485.0 387.5,484.9 389.3,484.2 391.2,484.2 393.2,485.9 395.2,486.0 397.3,484.5 399.2,484.6 401.1,485.1 402.9,485.1 404.6,485.5 406.2,485.4 407.6,485.2 409.8,484.8 411.5,483.9 413.2,482.9 414.8,482.3 416.4,481.8 418.2,481.4 420.1,481.0 421.8,480.8 423.8,480.9 425.8,480.9 427.8,480.8 429.9,480.6 432.0,480.5 433.8,479.9 435.6,479.8 437.4,479.9 439.2,479.8 441.1,480.1 443.0,480.1 445.0,479.7 446.7,479.7 448.4,479.4 450.1,479.4 452.0,479.9 453.8,479.9 455.7,479.3 457.5,479.3 459.4,479.3 461.3,479.3 463.2,480.0 465.0,480.0 466.9,479.5 468.8,479.4 470.8,478.7 472.8,478.6 474.8,478.4 476.8,478.3 478.8,479.1 480.5,479.1 482.1,479.9 483.6,480.0 484.8,480.1 486.6,480.9 488.0,482.2 489.5,483.2 491.7,483.4 493.4,484.4 494.9,484.1 497.5,484.4 500.3,483.7 502.7,482.8 505.0,481.1 506.8,480.4 508.7,479.6 510.8,478.8 513.0,478.4 515.1,477.8 516.9,476.8 518.9,476.5 521.0,476.2 523.0,476.0 525.0,476.3 527.1,476.0 529.0,474.5 531.1,474.2 533.2,474.6 535.0,474.8 536.6,475.8 538.0,476.8 539.0,478.6 540.5,479.7 542.7,480.1 544.3,481.4 545.4,483.4 547.5,483.9 549.3,482.6 551.2,481.6 552.8,479.7 554.7,478.5 557.3,478.8 559.1,477.7 560.5,475.9 562.8,475.7 564.7,474.9 566.7,474.0 568.7,473.3 570.7,472.9 572.4,472.7 575.0,471.9 577.0,472.9 579.0,474.0 580.7,473.6 582.2,472.1 584.1,471.0 586.1,470.9 587.4,470.7 589.6,471.8 591.2,473.8 592.7,475.8 595.1,476.8 597.2,477.5 599.6,477.7 602.1,478.1 604.1,477.9 606.1,478.3 607.8,480.2 609.9,480.6 611.9,480.6 614.0,480.9 616.2,480.9 618.2,481.3 620.2,481.6 622.0,482.7 623.3,484.5 624.7,486.0 625.9,487.6 627.1,489.3 628.9,490.8 628.7,493.2 630.7,494.7 631.5,496.7 631.3,498.9 631.9,500.9 632.3,503.0 632.7,504.9 634.1,506.6 633.3,508.8 633.4,510.8 633.8,512.9 634.1,515.1 635.3,516.7 635.5,518.6 635.8,520.4 636.0,522.4 635.2,524.4 635.4,526.4 635.8,528.4 635.9,530.4 636.8,532.4 637.0,534.2 636.2,536.1 636.3,537.9 636.8,539.7 636.9,541.6 637.5,543.5 636.7,545.5 636.5,547.4 637.9,549.2 638.0,551.1 637.2,553.1 637.4,555.1 638.0,556.9 638.1,558.8 638.5,560.7 638.6,562.6 639.3,564.5 639.4,566.4 638.7,568.4 638.8,570.3 639.8,572.2 639.9,574.1 639.7,576.1 639.9,578.1 640.5,580.0 640.6,581.8 640.5,583.7 640.7,585.6 639.9,587.6 639.7,589.5 640.6,591.4 640.8,593.3 640.9,595.2 641.1,597.0 641.4,598.9 641.5,600.7 642.2,602.5 642.3,604.2 642.0,606.0 642.1,608.1 642.5,610.4 642.6,612.8 641.9,615.2 642.0,617.5 643.1,619.5 643.2,621.3 643.5,622.7 643.6,623.5 643.1,623.2 642.4,623.5 644.0,622.9 644.2,621.6 643.6,619.8 643.8,617.7 644.7,615.5 644.1,613.1 644.3,610.7 644.6,608.3 644.8,606.0 644.6,604.5 644.7,603.0 644.8,601.4 645.5,599.8 645.7,598.1 645.7,596.3 645.8,594.5 646.5,592.8 646.6,590.9 647.1,589.0 647.2,587.1 646.4,585.1 646.5,583.2 647.1,581.3 647.2,579.3 647.9,577.4 648.0,575.5 647.4,573.5 647.6,571.6 647.2,569.7 647.4,567.8 647.7,566.0 647.9,564.2 648.3,562.5 648.5,560.6 648.3,558.6 648.4,556.6 648.1,554.7 648.3,552.7 648.7,550.8 648.8,548.9 648.5,546.9 648.7,545.0 649.3,543.2 649.4,541.3 649.4,539.5 649.6,537.7 649.7,535.9 649.9,534.1 649.6,532.4 649.8,530.7 650.2,529.1 650.4,527.5 651.8,525.5 652.0,523.5 652.1,521.5 652.3,519.6 651.5,517.6 651.3,515.7 651.3,513.9 651.5,512.2 653.0,510.7 653.2,509.1 653.0,507.5 653.5,505.0 654.4,502.4 655.1,500.2 655.7,498.6 655.8,497.7 656.9,498.5 659.2,499.9 660.6,502.1 660.6,504.5 661.5,506.6 663.6,507.6 664.1,508.1 665.0,508.0 666.5,506.6 668.2,505.0 669.8,503.7 671.8,502.5 673.4,501.8 675.5,500.7 677.0,498.5 677.5,497.6 678.0,498.3 679.4,500.5 680.2,502.9 681.1,503.7 681.6,503.2 683.2,501.9 684.0,499.5 683.9,496.7 685.7,494.6 686.6,492.8 686.6,489.8 688.1,487.9 690.0,486.8 691.7,487.7 692.5,488.5 692.7,487.9 693.2,486.4 694.7,484.5 695.1,482.1 695.5,479.7 696.0,477.6 696.3,475.2 695.8,472.5 697.3,470.1 697.5,468.4 697.4,468.2 696.6,468.2 696.8,469.3 697.4,470.9 697.7,473.0 698.2,475.4 698.5,477.8 699.8,479.9 700.0,481.5 699.4,483.2 699.5,485.0 698.7,486.9 698.7,488.8 699.1,490.8 699.3,492.8 699.4,494.8 700.3,496.8 700.4,498.8 699.6,500.8 699.2,502.6 700.1,504.4 700.3,506.0 701.3,507.4 700.9,510.0 701.4,512.5 701.0,515.1 701.4,517.1 702.6,518.3 702.5,518.5 702.3,518.3 703.1,517.1 703.4,515.0 704.5,512.7 703.7,510.0 704.1,507.5 704.3,505.3 704.9,503.6 707.0,501.5 709.0,500.7 710.0,501.6 710.3,503.4 710.8,505.6 712.0,507.9 712.5,510.3 712.3,512.6 712.9,514.7 713.2,517.2 713.9,519.4 715.7,520.6 716.1,521.3 717.9,521.2 720.1,520.7 721.6,521.7 722.3,523.9 722.6,526.5 723.1,529.1 723.1,531.6 723.6,533.3 724.0,533.7 724.3,533.1 725.0,531.3 725.1,528.6 727.4,526.4 727.9,524.2 727.1,521.8 727.1,519.8 729.2,518.6 729.7,517.6 730.0,515.4 731.7,515.3 732.6,516.2 732.5,517.6 732.8,519.0 732.8,520.8 732.3,522.9 732.5,525.1 733.1,527.5 733.3,529.9 733.4,532.4 734.3,534.7 734.9,536.9 735.1,538.6 734.3,540.4 733.8,542.3 735.2,544.0 735.4,546.0 734.6,548.1 734.4,550.1 735.9,552.1 736.0,554.2 735.2,556.3 735.1,558.4 736.2,560.3 736.3,562.3 735.5,564.3 735.7,566.1 736.7,567.9 736.8,569.6 737.0,571.1 737.1,572.6 737.2,574.0 737.8,576.8 737.4,579.7 737.7,582.1 737.5,584.0 738.1,585.0 739.2,584.3 739.5,583.3 739.9,581.7 740.1,579.8 739.6,577.4 739.9,574.9 739.5,572.3 740.6,569.8 741.1,567.3 740.9,565.0 741.1,563.3 741.4,561.5 741.0,559.6 741.9,557.8 742.2,555.9 743.0,554.1 743.4,552.2 743.7,550.2 743.9,548.3 744.2,546.4 743.5,544.3 743.8,542.4 744.5,540.6 744.8,538.8 744.7,537.0 745.0,534.9 745.8,532.8 746.0,530.6 746.6,528.4 745.8,526.1 745.9,523.9 746.6,521.9 746.9,520.0 746.5,518.1 746.9,516.5 747.6,515.3 748.3,514.2 750.8,514.5 753.0,513.7 754.1,511.9 755.1,509.8 756.1,507.3 757.0,504.8 757.6,502.4 758.3,500.9 758.5,500.3 759.1,500.9 760.6,502.5 761.4,504.9 760.6,506.5 760.7,508.2 761.6,510.2 761.8,512.5 762.5,514.9 762.7,517.5 763.5,520.0 762.7,522.6 762.6,524.9 764.0,526.9 764.2,528.7 764.0,530.1 764.3,531.0 764.4,531.3 765.1,530.6 766.1,528.7 767.1,526.2 768.3,524.3 769.0,523.6 769.3,523.9 769.6,524.5 770.7,525.3 771.0,526.6 770.2,528.4 770.0,530.2 771.7,532.0 771.9,534.2 771.8,536.5 771.4,538.9 771.6,541.3 771.8,543.8 772.4,546.2 772.5,548.5 772.9,550.8 773.1,552.9 772.3,555.0 772.5,556.8 773.0,558.7 773.1,560.7 773.2,562.7 773.1,564.8 773.2,566.8 772.9,568.9 772.6,571.0 772.7,573.1 774.5,575.0 774.6,577.0 774.1,579.0 774.3,580.9 773.5,582.7 773.5,584.4 774.0,586.0 774.1,587.5 774.3,588.9 774.5,590.1 776.0,592.4 776.5,594.6 777.4,596.0 777.3,596.1 776.5,596.3 776.6,595.6 777.2,594.5 777.5,592.8 778.7,590.9 778.9,588.6 779.4,586.2 779.7,583.7 779.9,581.1 780.1,578.5 780.4,576.1 780.5,574.7 780.6,573.2 779.8,571.5 779.5,569.9 779.9,568.3 780.0,566.5 780.8,564.8 780.9,562.9 780.1,561.0 780.0,559.0 781.3,557.2 781.4,555.2 781.5,553.2 781.4,551.1 781.4,549.1 781.5,547.1 780.8,545.0 780.9,543.0 782.1,541.0 782.2,539.0 781.4,537.0 781.5,535.1 782.9,533.3 783.0,531.4 782.2,529.5 781.9,527.7 782.0,526.0 782.1,524.3 782.4,522.7 782.6,521.2 782.9,519.8 783.1,518.5 783.6,516.0 784.8,513.5 785.2,510.9 785.2,508.4 785.5,506.1 786.3,504.1 786.7,502.3 786.0,500.6 786.4,499.7 787.1,499.2 787.6,500.1 788.3,501.8 788.4,504.3 790.1,506.4 790.4,507.9 790.6,509.6 789.8,511.6 790.0,513.6 790.5,515.7 789.9,517.9 790.0,520.1 790.1,522.2 790.3,524.2 792.1,525.8 792.4,527.4 792.5,528.8 793.3,530.6 793.7,532.4 794.8,533.7 796.5,534.6 797.7,536.0 798.5,537.7 799.8,539.1 801.2,540.9 801.9,542.2 803.2,543.5 803.9,545.2 804.0,547.3 804.4,549.3 805.0,551.2 806.4,552.9 807.0,554.9 806.5,557.1 807.1,558.9 808.4,560.3 809.2,562.3 809.9,564.1 810.7,565.8 811.0,567.7 811.7,569.5 811.5,571.7 812.9,573.5 813.3,575.1 813.1,576.9 813.4,578.7 814.1,580.5 814.4,582.5 815.2,584.4 815.5,586.4 814.9,588.5 815.1,590.6 815.1,592.6 815.4,594.6 816.8,596.3 817.1,598.2 816.6,600.1 816.9,602.2 817.4,604.4 817.7,606.7 818.1,609.0 818.4,611.2 819.6,613.1 820.0,614.9 819.9,616.5 820.3,617.6 820.6,618.2 821.5,618.2 822.5,618.5 823.0,619.3 823.9,620.8 824.2,623.0 824.3,625.5 825.3,628.1 825.5,630.8 824.9,633.5 825.1,635.9 825.2,637.8 825.5,639.1 826.0,639.6 826.2,638.4 827.2,636.6 828.7,634.3 829.4,631.6 830.2,630.2 830.5,628.5 830.7,626.7 830.9,624.9 830.1,622.9 829.8,620.9 830.9,619.0 831.1,617.0 831.0,615.0 831.2,613.0 831.6,611.3 831.9,609.5 831.5,607.6 831.8,605.8 833.6,604.3 833.9,602.4 833.1,600.4 833.1,598.5 833.4,596.6 834.7,594.8 835.0,592.9 834.7,590.9 835.0,588.9 835.7,587.0 835.9,585.2 836.3,583.4 836.5,581.5 836.9,579.6 837.1,577.7 837.1,575.7 837.7,573.8 837.9,571.8 837.3,569.8 837.5,567.8 837.4,565.9 837.7,563.9 839.2,562.2 839.4,560.4 839.8,558.6 840.0,556.8 839.2,554.9 839.5,552.9 840.4,550.9 840.8,548.9 841.2,546.9 841.5,545.0 840.7,542.9 841.1,541.0 841.4,539.2 841.8,537.4 842.8,535.7 843.2,533.9 844.2,532.2 844.6,530.3 844.9,528.3 846.2,526.7 846.7,524.9 847.4,523.2 848.0,521.6 848.0,519.9 848.7,518.6 849.5,516.4 850.7,514.3 852.3,513.0 853.9,513.5 855.0,514.4 856.2,516.4 857.9,517.6 858.9,516.6 859.9,515.5 860.9,514.0 861.9,512.1 863.0,510.2 864.0,508.2 865.3,506.6 866.3,505.3 867.7,503.8 869.2,502.5 870.8,501.4 872.3,500.6 873.6,500.0 876.1,499.7 878.6,499.9 879.6,501.7 880.2,504.3 881.0,506.8 882.1,507.3 883.6,507.0 885.6,505.0 887.6,504.5 888.3,505.0 889.1,506.4 890.1,508.1 891.7,509.8 894.0,510.9 895.2,512.4 896.7,514.2 898.4,516.1 899.5,518.6 901.1,519.8 902.8,520.8 904.4,518.9 903.9,515.6 905.7,513.3 906.2,512.4 906.0,512.6 906.3,513.6 907.7,514.9 906.9,517.1 906.6,519.4 906.9,521.9 907.8,524.4 907.8,527.0 908.1,529.4 909.3,531.4 909.7,533.2 910.5,534.9 910.9,536.8 911.4,538.7 911.8,540.6 911.7,542.7 912.1,544.6 913.2,546.3 913.7,548.2 913.5,550.1 913.9,551.8 914.3,553.4 913.7,555.2 914.2,557.3 916.0,559.0 916.5,560.9 916.9,562.7 917.3,564.3 917.8,565.8 917.8,568.5 918.5,571.1 919.5,572.4 919.6,574.2 919.7,576.4 919.7,578.8 919.7,581.3 919.5,583.9 918.7,586.3 918.1,588.8 918.0,590.9 918.8,592.8 918.7,594.3 918.7,595.2 918.3,595.5 918.3,595.1 918.4,593.8 917.9,591.9 918.0,589.6 919.0,587.0 919.1,584.1 919.3,581.3 918.9,578.6 919.1,576.2 919.7,574.3 920.1,572.9 920.8,572.2 921.7,573.2 921.6,575.6 922.5,578.1 923.5,580.4 925.0,580.6 925.9,579.7 926.8,577.3 928.2,576.0 929.6,576.9 930.1,578.3 930.7,580.1 931.0,582.3 931.1,584.8 931.3,587.3 931.6,589.7 930.8,592.0 931.4,594.0 931.4,596.3 930.6,598.7 930.5,601.3 929.9,603.9 931.1,606.4 931.0,608.7 930.2,610.6 930.0,612.1 930.4,613.1 930.6,613.5 931.0,612.7 931.3,610.6 931.1,607.8 931.7,605.1 932.8,603.2 933.4,602.2 934.2,602.7 934.4,603.7 934.9,605.1 935.1,607.0 935.1,609.1 935.2,611.5 935.2,614.0 935.3,616.5 935.4,619.0 935.5,621.4 934.9,623.6 935.0,625.5 935.4,627.7 935.5,630.0 934.7,632.5 934.6,634.8 936.0,636.8 936.1,638.5 936.1,639.6 935.6,640.0" fill="none" stroke="#000" stroke-width="2.9" stroke-linejoin="round" stroke-linecap="butt"/>
<polygon points="640.2,405 645.6,405 645,416 643,422.5 641.2,416" fill="#ff0000"/>
<polygon points="640.6,603 645.6,603 644.8,618 643.2,625 641.6,618" fill="#000"/>
<rect x="770.2" y="14.1" width="157.4" height="85.4" fill="#fff" stroke="#111" stroke-width="1.6"/>
<line x1="773" y1="30.7" x2="809.2" y2="30.7" stroke="#0000ff" stroke-width="4.0"/>
<line x1="775" y1="56.9" x2="808.6" y2="56.9" stroke="#ff0000" stroke-width="3.3"/>
<line x1="772.4" y1="86" x2="807.5" y2="86" stroke="#000" stroke-width="3.4"/>
<text x="809" y="41.2" text-anchor="start" font-size="24.6" font-weight="bold" >CPS</text>
<text x="811.3" y="64.5" text-anchor="start" font-size="23.6" font-weight="bold" >BC</text>
<text x="807.6" y="94" text-anchor="start" font-size="23.2" font-weight="bold" >BC<tspan font-family="Liberation Serif, serif" font-weight="normal" font-size="18.6" stroke="#111" stroke-width="0.3">500</tspan>/PSB</text>
<text transform="translate(385.6,745.8) scale(1,1.10)" font-size="28.3" font-weight="bold" word-spacing="3.4">Wave number (cm<tspan font-size="16.5" dy="-9.6">-1</tspan><tspan dy="9.6">)</tspan></text>
<text transform="translate(28.1,446.4) rotate(-90) scale(1,1.03)" font-size="29.15" font-weight="bold">Transmittance (%)</text>
<text transform="translate(214.16,163.20) scale(1.0048,1)" font-size="23.45">H-O-H</text>
<text transform="translate(201.28,191.00) scale(0.9990,1)" font-size="23.17">3330 cm<tspan font-size="15.29" dy="-7.18">-1</tspan></text>
<text transform="translate(105.50,375.40) scale(1.0449,1)" font-size="23.31">N-H</text>
<text transform="translate(67.26,402.80) scale(1.0414,1)" font-size="22.73">3728 (cm<tspan font-size="15.00" dy="-7.05">-1</tspan><tspan dy="7.05">)</tspan></text>
<text transform="translate(324.77,388.60) scale(1.0658,1)" font-size="22.59">C-H</text>
<text transform="translate(324.77,416.00) scale(1.0646,1)" font-size="22.59">2960 (cm<tspan font-size="14.91" dy="-7.00">-1</tspan><tspan dy="7.00">)</tspan></text>
<text transform="translate(655.86,243.60) scale(1.0446,1)" font-size="23.31">C=C</text>
<text transform="translate(643.66,273.00) scale(1.0047,1)" font-size="22.88">1585 cm<tspan font-size="15.10" dy="-7.09">-1</tspan></text>
<text transform="translate(831.38,239.70) scale(1.0020,1)" font-size="22.73">1025 cm<tspan font-size="15.00" dy="-7.05">-1</tspan></text>
<text transform="translate(856.11,269.80) scale(0.9824,1)" font-size="23.60">C-O</text>
<text transform="translate(561.81,430.00) scale(0.9803,1)" font-size="23.74">C=O</text>
<text transform="translate(527.76,457.30) scale(0.9995,1)" font-size="23.02">1740 cm<tspan font-size="15.19" dy="-7.14">-1</tspan></text>
<text transform="translate(677.66,411.60) scale(1.0346,1)" font-size="23.60">C-C</text>
<text transform="translate(664.67,439.10) scale(0.9832,1)" font-size="23.31">1365 cm<tspan font-size="15.38" dy="-7.23">-1</tspan></text>
<text transform="translate(104.41,586.20) scale(1.0256,1)" font-size="22.30">N-H</text>
<text transform="translate(67.30,612.80) scale(1.0924,1)" font-size="20.58">3728 (cm<tspan font-size="13.58" dy="-6.38">-1</tspan><tspan dy="6.38">)</tspan></text>
<text transform="translate(216.98,611.20) scale(1.0253,1)" font-size="22.73">H-O-H</text>
<text transform="translate(204.17,639.00) scale(1.0036,1)" font-size="23.31">3330 cm<tspan font-size="15.38" dy="-7.23">-1</tspan></text>
<text transform="translate(324.77,582.30) scale(1.0458,1)" font-size="23.02">C-H</text>
<text transform="translate(324.77,610.60) scale(1.0646,1)" font-size="22.59">2960 (cm<tspan font-size="14.91" dy="-7.00">-1</tspan><tspan dy="7.00">)</tspan></text>
<text transform="translate(553.10,619.20) scale(1.0071,1)" font-size="23.31">C=O</text>
<text transform="translate(526.56,646.70) scale(1.0088,1)" font-size="22.88">1740 cm<tspan font-size="15.10" dy="-7.09">-1</tspan></text>
<text transform="translate(677.66,607.10) scale(1.0409,1)" font-size="23.45">C-C</text>
<text transform="translate(664.36,634.50) scale(0.9861,1)" font-size="23.31">1365 cm<tspan font-size="15.38" dy="-7.23">-1</tspan></text>
<text transform="translate(843.09,620.40) scale(1.0080,1)" font-size="23.45">C-O</text>
<text transform="translate(831.38,647.80) scale(1.0020,1)" font-size="22.73">1025 cm<tspan font-size="15.00" dy="-7.05">-1</tspan></text>
<line x1="234" y1="75" x2="234" y2="124.5" stroke="#111" stroke-width="1.6"/><polygon points="228.5,122.0 239.5,122.0 234,132.5" fill="#111"/>
<line x1="132" y1="292.5" x2="132" y2="328" stroke="#111" stroke-width="1.6"/><polygon points="126.5,325.5 137.5,325.5 132,336" fill="#111"/>
<line x1="331" y1="301" x2="331" y2="351" stroke="#111" stroke-width="1.6"/><polygon points="325.5,348.5 336.5,348.5 331,359" fill="#111"/>
<line x1="680.5" y1="326" x2="670.8" y2="289.6" stroke="#111" stroke-width="1.5"/><polygon points="676.1,288.2 665.5,291.0 668,279" fill="#111"/>
<line x1="823.6" y1="242" x2="842.4" y2="254.0" stroke="#111" stroke-width="1.5"/><polygon points="839.6,258.4 845.2,249.7 852.5,260.5" fill="#111"/>
<line x1="641.6" y1="403.7" x2="620" y2="423" stroke="#111" stroke-width="1.5"/>
<polygon points="617.7,418 613,432 623.5,432" fill="#111"/>
<line x1="736" y1="362.5" x2="714" y2="381" stroke="#111" stroke-width="1.5"/>
<polygon points="712.2,378 707.2,391 718,391" fill="#111"/>
<line x1="129.5" y1="509.5" x2="129.5" y2="541" stroke="#111" stroke-width="1.6"/><polygon points="124.0,538.5 135.0,538.5 129.5,549" fill="#111"/>
<line x1="234.5" y1="525" x2="234.5" y2="574.5" stroke="#111" stroke-width="1.6"/><polygon points="229.0,572.0 240.0,572.0 234.5,582.5" fill="#111"/>
<line x1="331" y1="510" x2="331" y2="544.5" stroke="#111" stroke-width="1.6"/><polygon points="325.5,542.0 336.5,542.0 331,552.5" fill="#111"/>
<line x1="646.3" y1="625.5" x2="637" y2="638" stroke="#111" stroke-width="1.5"/>
<polygon points="632,634 632,647 642.4,647" fill="#111"/>
<line x1="734.5" y1="560.5" x2="713.8" y2="576.5" stroke="#111" stroke-width="1.5"/>
<polygon points="711,570 704.6,584 717.8,584" fill="#111"/>
</svg>
</body></html>
